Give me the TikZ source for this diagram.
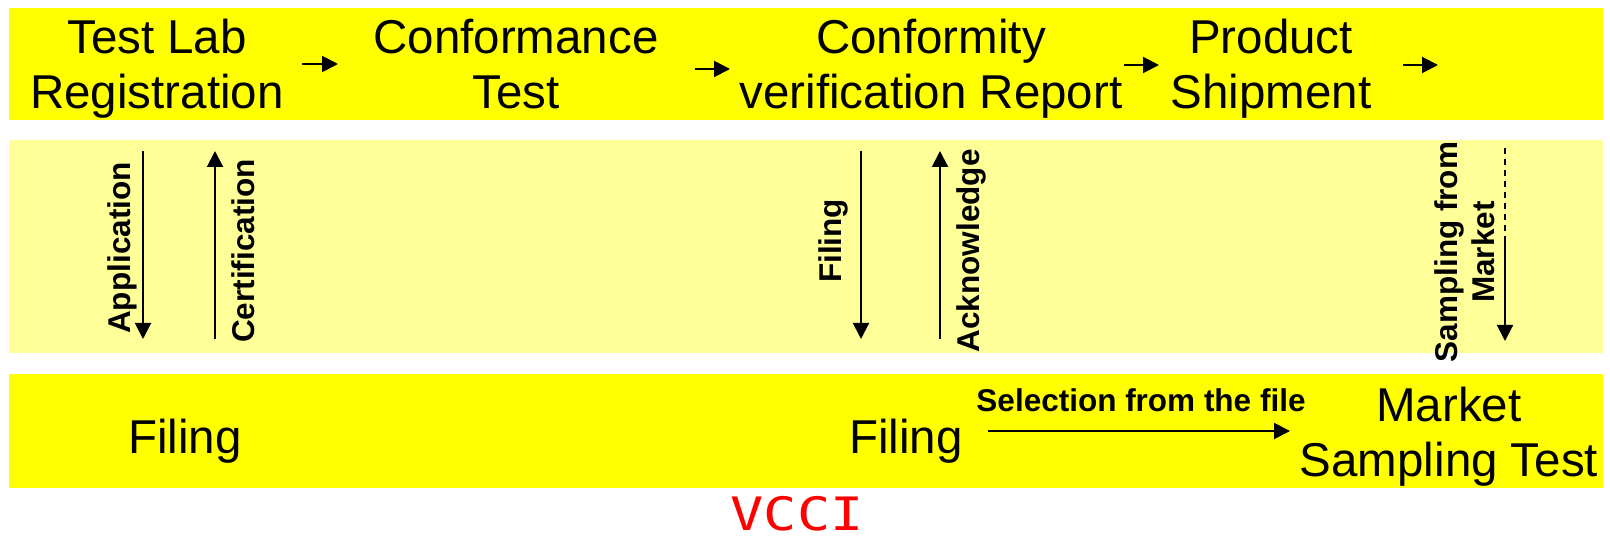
\documentclass[tikz,border=0pt]{standalone}
\usepackage{fontspec}
\setmainfont{Liberation Sans}
\newfontfamily\vccifont{DejaVu Sans Mono}
\usetikzlibrary{arrows.meta}
\definecolor{bandyellow}{RGB}{255,255,0}
\definecolor{paleyellow}{RGB}{255,255,153}
\definecolor{vccired}{RGB}{255,0,0}
\begin{document}
\begin{tikzpicture}[x=1pt,y=-1pt,
  stage/.style={align=center, inner sep=0pt, font=\fontsize{47.5}{55}\selectfont},
  office/.style={inner sep=0pt, anchor=base, font=\fontsize{47.5}{55}\selectfont},
  vlabel/.style={rotate=90, inner sep=0pt, align=center, font=\bfseries\fontsize{31.5}{37}\selectfont},
  flow/.style={line width=2pt, -{Triangle[length=16pt,width=16pt]}},
  dashline/.style={line width=1.8pt, dash pattern=on 6pt off 5pt},
]
\useasboundingbox (0,0) rectangle (1610,537);
% bands
\fill[bandyellow] (9,8) rectangle (1603,120);
\fill[paleyellow] (9,140) rectangle (1603,353);
\fill[bandyellow] (9,374) rectangle (1603,488);

% top stages
\node[stage] (tlr) at (157,70.5) {\strut Test Lab\\\strut Registration};
\node[stage] (ct) at (516,70.5) {\strut Conformance\\\strut Test};
\node[stage] (cvr) at (931,70.5) {\strut Conformity\\\strut verification Report};
\node[stage] (ps) at (1271,70.5) {\strut Product\\\strut Shipment};

\coordinate (a1s) at (302,64);  \coordinate (a1e) at (338,64);
\coordinate (a2s) at (695,69);  \coordinate (a2e) at (730,69);
\coordinate (a3s) at (1124,65); \coordinate (a3e) at (1159,65);
\coordinate (a4s) at (1403,65); \coordinate (a4e) at (1438,65);
\draw[flow] (a1s) -- (a1e);
\draw[flow] (a2s) -- (a2e);
\draw[flow] (a3s) -- (a3e);
\draw[flow] (a4s) -- (a4e);

% bottom
\node[office] (f1) at (185,453) {Filing};
\node[office] (f2) at (906,453) {Filing};
\node[stage] (mst) at (1449,437.5) {\strut Market\\\strut Sampling Test};
\coordinate (ss) at (988,431); \coordinate (se) at (1290,431);
\draw[flow] (ss) -- (se);
\node[inner sep=0pt, anchor=base, font=\bfseries\fontsize{31.5}{37}\selectfont] (sel) at (1141,411) {Selection from the file};

% vertical labels
\node[vlabel] (app) at (122,248) {Application};
\node[vlabel] (cert) at (243,251) {Certification};
\node[vlabel] (fil) at (833,241) {Filing};
\node[vlabel] (ack) at (971,251) {Acknowledge};
\node[vlabel] (sfm) at (1465,252) {Sampling from\\Market};

% vertical arrows
\coordinate (v1t) at (143,151); \coordinate (v1b) at (143,339);
\coordinate (v2t) at (215,151); \coordinate (v2b) at (215,339);
\coordinate (v3t) at (861,151); \coordinate (v3b) at (861,339);
\coordinate (v4t) at (940,151); \coordinate (v4b) at (940,339);
\coordinate (v5t) at (1505,148); \coordinate (v5m) at (1505,236); \coordinate (v5b) at (1505,341);
\draw[flow] (v1t) -- (v1b);
\draw[flow] (v2b) -- (v2t);
\draw[flow] (v3t) -- (v3b);
\draw[flow] (v4b) -- (v4t);
\draw[dashline] (v5t) -- (v5m);
\draw[flow] (v5m) -- (v5b);

% title
\node[inner sep=0pt, anchor=base, text=vccired, font=\vccifont\fontsize{46}{50}\selectfont] (vcci) at (797,530) {\scalebox{1.2}[1]{VCCI}};
\end{tikzpicture}
\end{document}
